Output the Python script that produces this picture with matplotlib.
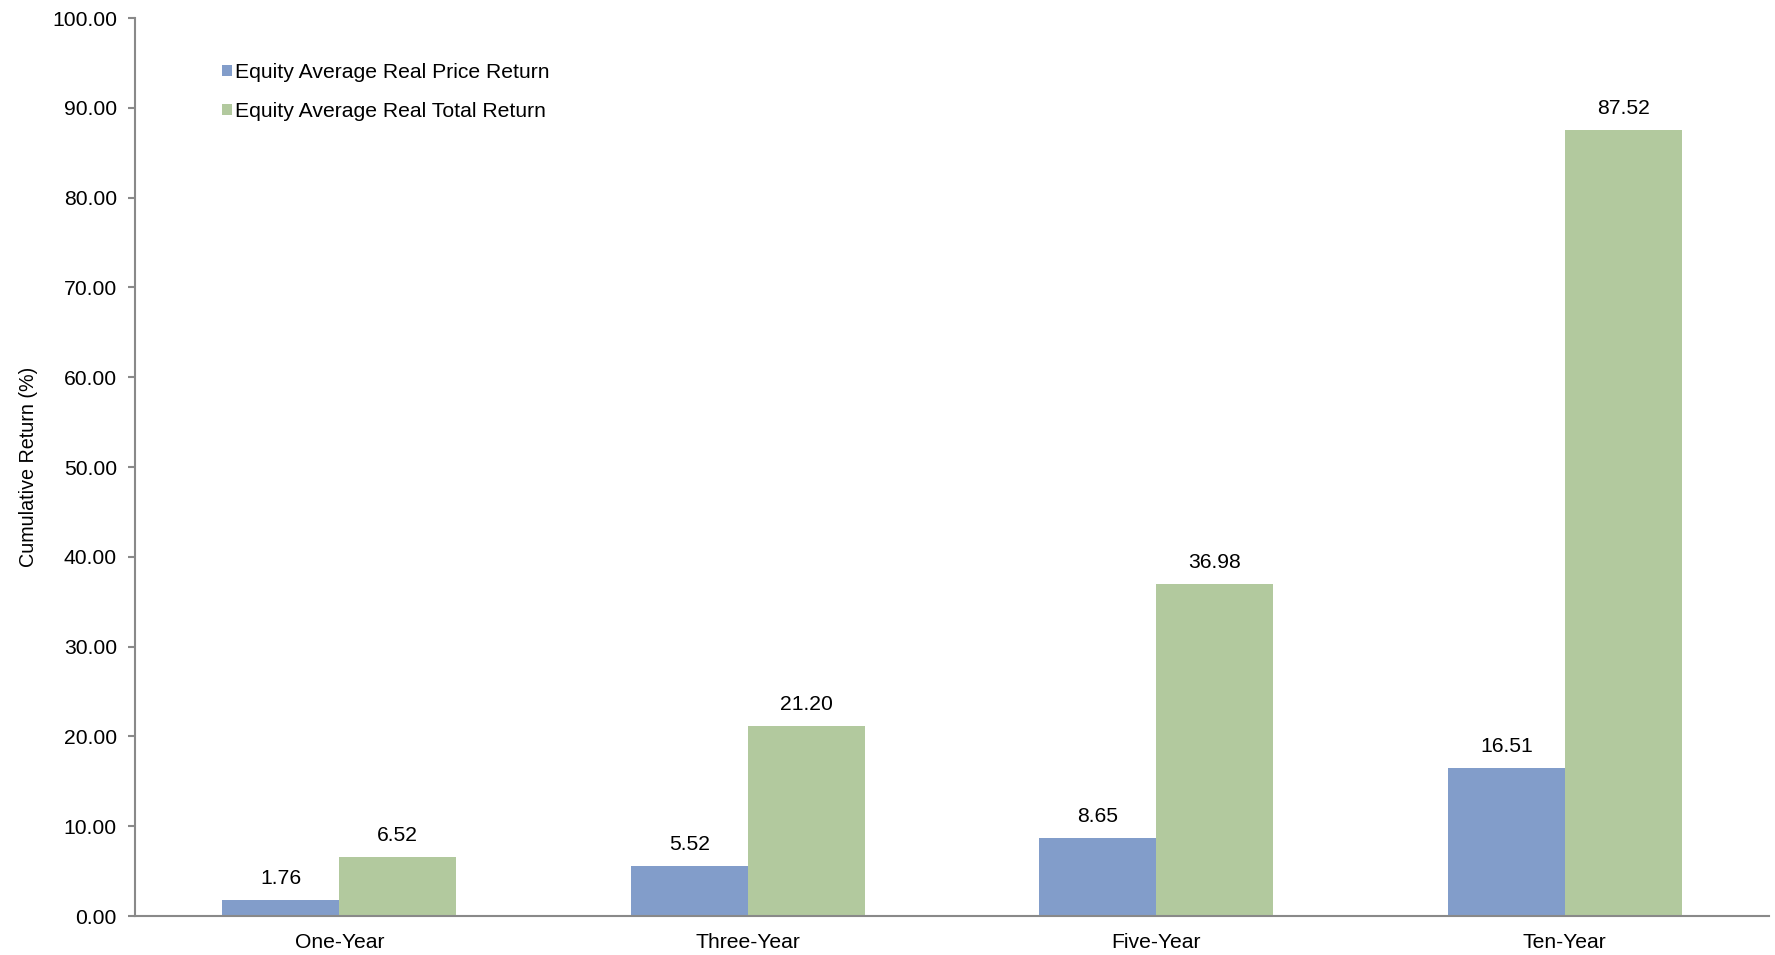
import matplotlib
matplotlib.use("Agg")
import matplotlib.pyplot as plt
import numpy as np

categories = ["One-Year", "Three-Year", "Five-Year", "Ten-Year"]
price_return = [1.76, 5.52, 8.65, 16.51]
total_return = [6.52, 21.20, 36.98, 87.52]
series_names = ["Equity Average Real Price Return", "Equity Average Real Total Return"]
y_ticks = [0, 10, 20, 30, 40, 50, 60, 70, 80, 90, 100]

plt.rcParams["font.family"] = ["Liberation Sans", "DejaVu Sans"]
FS = 15.2
BLUE = "#829DCA"
GREEN = "#B2C99E"
AXIS = "#898989"

fig = plt.figure(figsize=(17.75, 9.55), dpi=100)
ax = fig.add_axes([135 / 1775, 39 / 955, (1769 - 135) / 1775, (916 - 18) / 955])

x = np.arange(len(categories))
w = 0.286
b1 = ax.bar(x - w / 2, price_return, width=w, color=BLUE, label=series_names[0])
b2 = ax.bar(x + w / 2, total_return, width=w, color=GREEN, label=series_names[1])

for bars, vals in ((b1, price_return), (b2, total_return)):
    for rect, v in zip(bars, vals):
        ax.annotate(f"{v:.2f}", (rect.get_x() + rect.get_width() / 2, v),
                    xytext=(0, 11.5), textcoords="offset points",
                    ha="center", va="baseline", fontsize=FS, color="black")

ax.set_xlim(-0.5, 3.5)
ax.set_ylim(0, 100)
ax.set_yticks(y_ticks)
ax.set_yticklabels([f"{t:.2f}" for t in y_ticks], fontsize=FS)
ax.set_xticks(x)
ax.set_xticklabels(categories, fontsize=FS)
ax.tick_params(axis="x", length=0, pad=12)
ax.tick_params(axis="y", length=5, color=AXIS, width=1.5, pad=8, direction="out")

for side in ("top", "right"):
    ax.spines[side].set_visible(False)
for side in ("left", "bottom"):
    ax.spines[side].set_color(AXIS)
    ax.spines[side].set_linewidth(1.5)

ax.set_ylabel("Cumulative Return (%)", fontsize=14.2, labelpad=10)

leg = ax.legend(loc="upper left", bbox_to_anchor=(222 / 1775, 1 - 63 / 955),
                bbox_transform=fig.transFigure, frameon=False, fontsize=FS,
                handlelength=0.45, handleheight=0.45, handletextpad=0.15,
                labelspacing=0.95, borderpad=0, borderaxespad=0)

fig.savefig("out.png", dpi=100, facecolor="white")
